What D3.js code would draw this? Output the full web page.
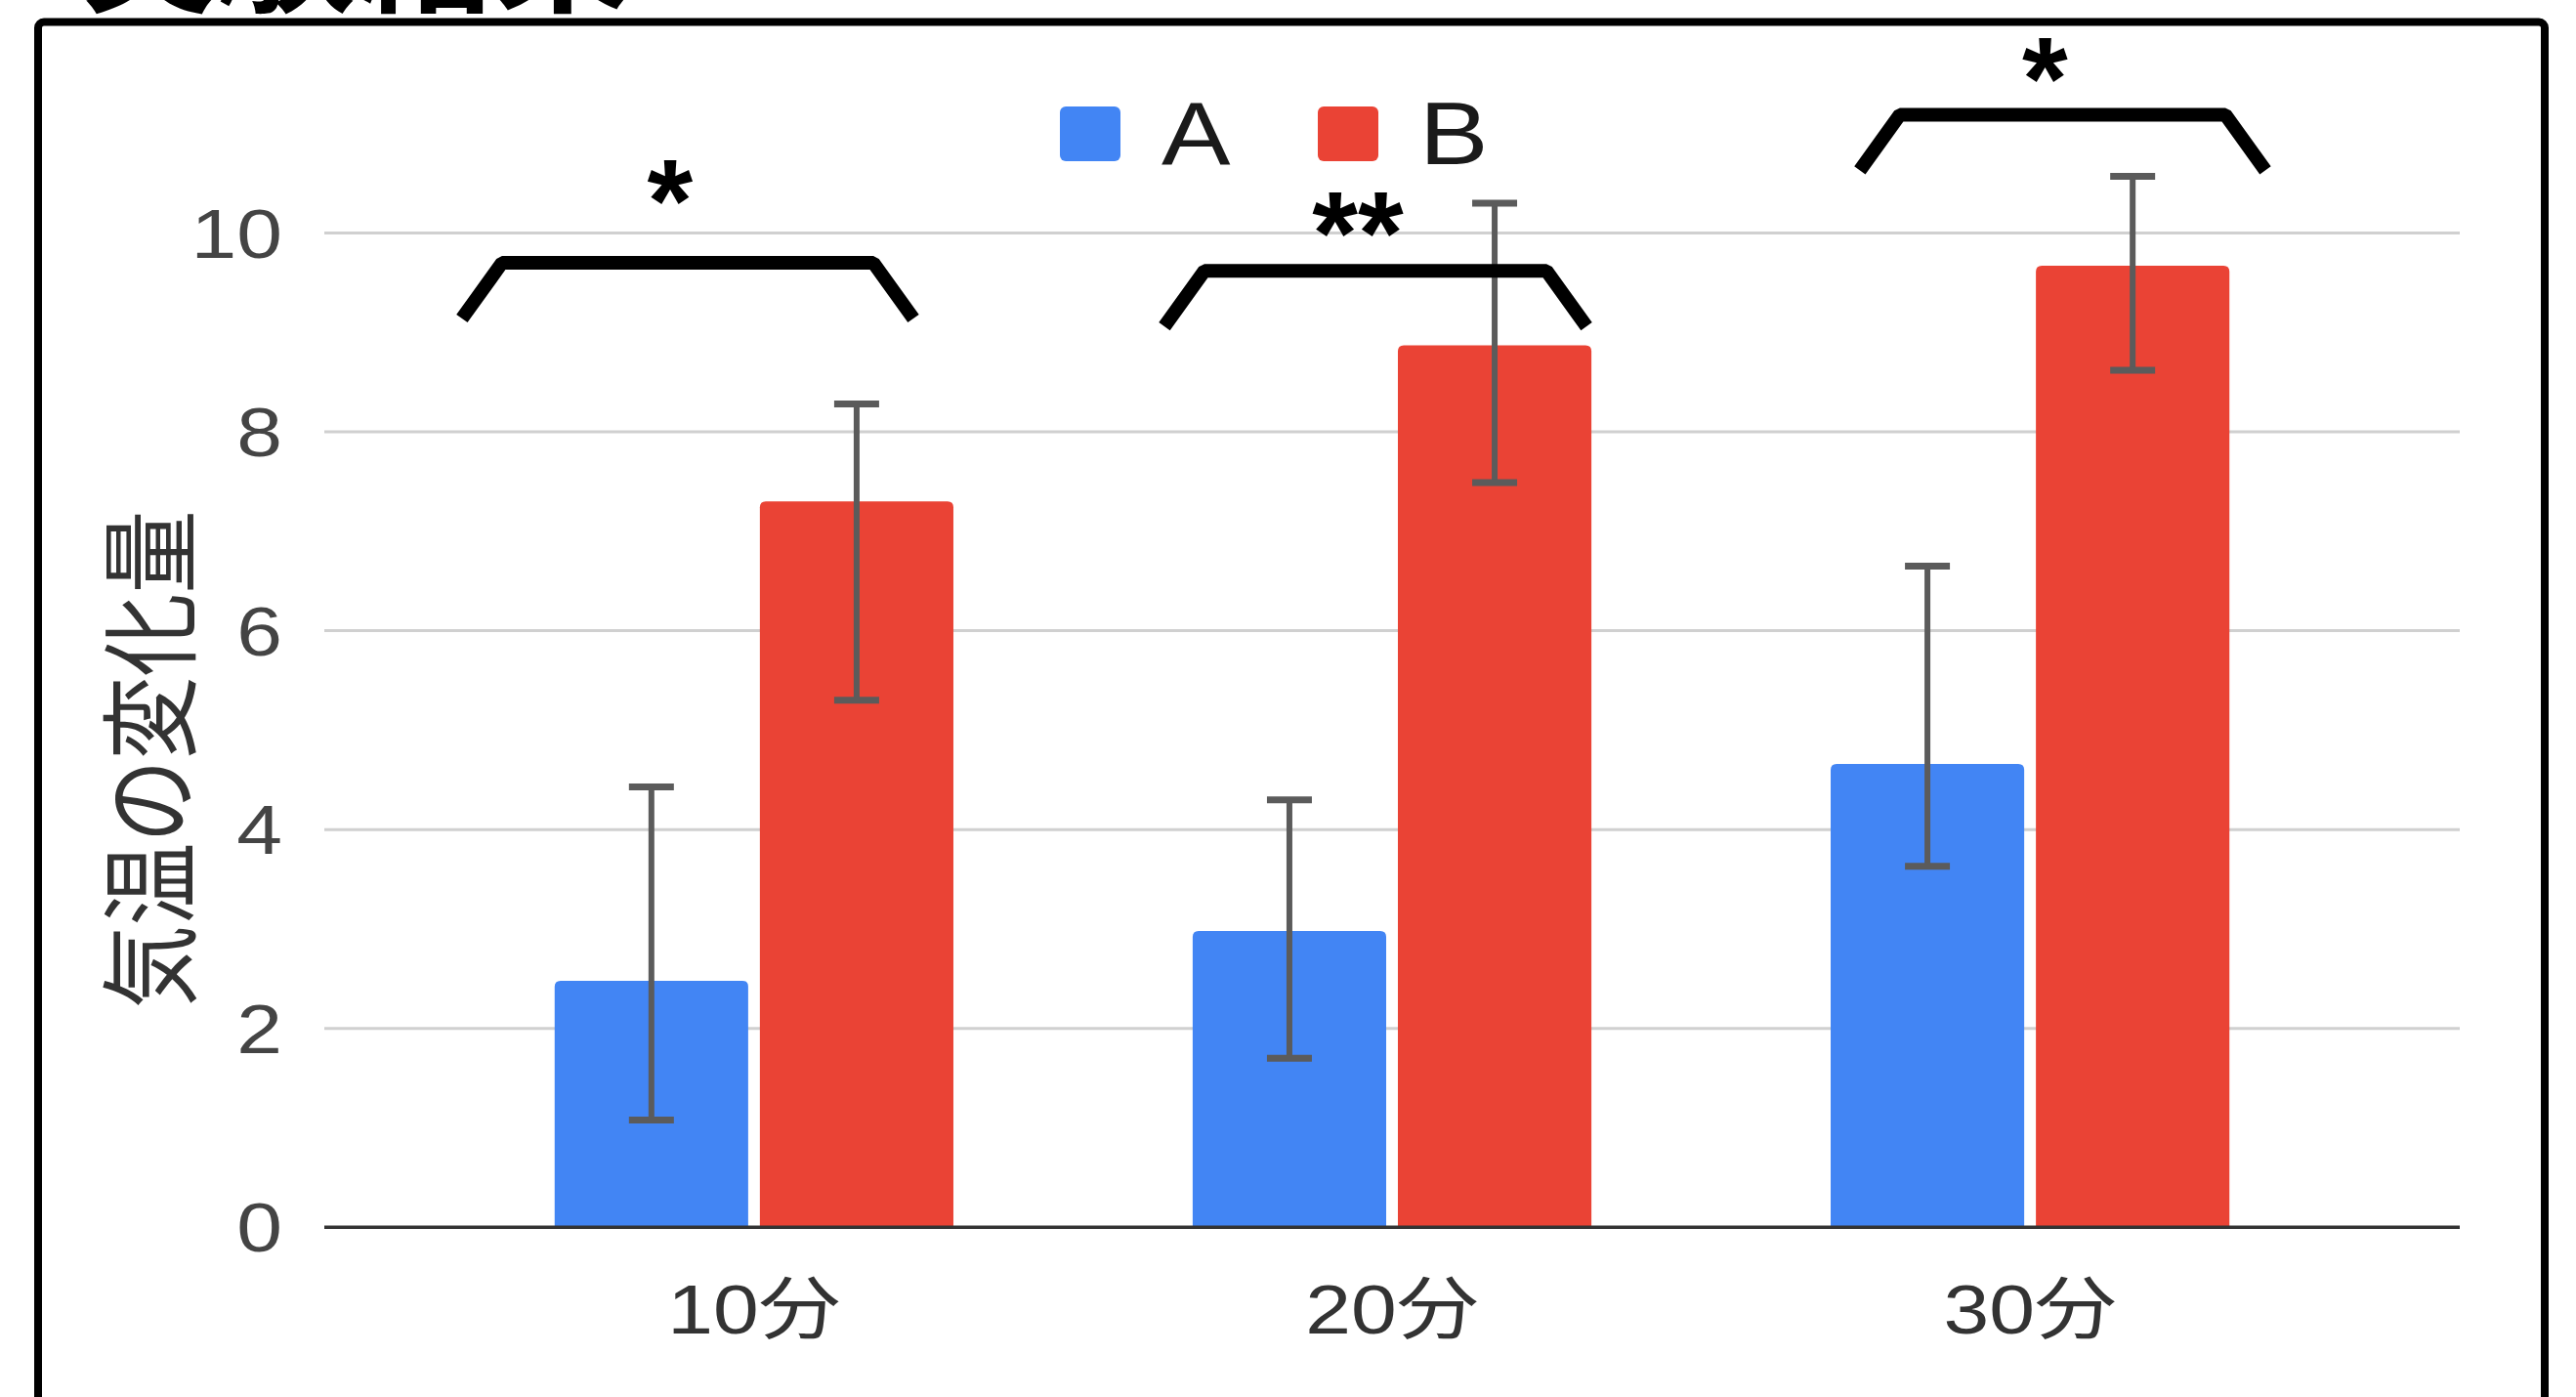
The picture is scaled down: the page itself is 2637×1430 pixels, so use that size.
<!DOCTYPE html>
<html><head><meta charset="utf-8">
<script src="https://cdn.jsdelivr.net/npm/d3@7"></script>
<style>html,body{margin:0;padding:0;background:#fff;} svg{display:block}</style>
</head><body>
<svg id="chart" width="2637" height="1430"></svg>
<script>
// ---- data ----
const categories = ["10分", "20分", "30分"];
const seriesNames = ["A", "B"];
const valuesA = [2.48, 2.98, 4.66];
const valuesB = [7.30, 8.87, 9.67];
const errLowA  = [1.08, 1.70, 3.63];
const errHighA = [4.43, 4.30, 6.65];
const errLowB  = [5.30, 7.49, 8.62];
const errHighB = [8.28, 10.30, 10.57];
const yTicks = [0, 2, 4, 6, 8, 10];
const sigLabels = ["*", "**", "*"];
const bracketLevel = [9.70, 9.62, 11.19];      // value units
const bracketFrom = [-0.395, 0.706, 1.796];    // category-index units
const bracketTo = [0.187, 1.242, 2.306];
const sigLabelLevel = [10.73, 10.40, 11.95];   // value units (top of label)
const titleText = "実験結果";
const yTitle = "気温の変化量";

// ---- setup ----
const svg = d3.select("#chart");
const colors = {A: "#4285F4", B: "#EA4335"};
const plot = {left: 332, right: 2518, top: 238.5, bottom: 1256.3};
const stretch = 1.2;
const latin = "'Liberation Sans', Arial, 'Noto Sans CJK JP', sans-serif";
const cjk = "'Noto Sans CJK JP', 'Liberation Sans', sans-serif";

const x = d3.scaleBand().domain(categories).range([plot.left, plot.right])
  .paddingInner(0.375).paddingOuter(0.361);
const xs = d3.scaleBand().domain(seriesNames).range([0, x.bandwidth()]).paddingInner(0.057);
const y = d3.scaleLinear().domain([0, 10]).range([plot.bottom, plot.top]);
const xIdx = i => x(categories[0]) + x.bandwidth() / 2 + i * x.step();

const rows = categories.map((c, i) => ({
  cat: c,
  bars: [
    {s: "A", v: valuesA[i], lo: errLowA[i], hi: errHighA[i]},
    {s: "B", v: valuesB[i], lo: errLowB[i], hi: errHighB[i]}
  ]
}));

// frame
svg.append("rect").attr("x", 39).attr("y", 22.5).attr("width", 2566).attr("height", 1500)
  .attr("rx", 6).attr("fill", "none").attr("stroke", "#000").attr("stroke-width", 8);

// title (cut off at top, as in the reference)
svg.append("text").attr("x", 82).attr("y", 1)
  .attr("font-family", cjk).attr("font-weight", 700).attr("font-size", 141)
  .attr("fill", "#000").text(titleText);

// gridlines
svg.append("g").selectAll("line").data(yTicks.filter(t => t !== 0)).join("line")
  .attr("x1", plot.left).attr("x2", plot.right)
  .attr("y1", d => y(d)).attr("y2", d => y(d))
  .attr("stroke", "#d0d0d0").attr("stroke-width", 3);

// y tick labels
svg.append("g").selectAll("text").data(yTicks).join("text")
  .attr("transform", d => `translate(${plot.left - 43},${y(d) + 0.358 * 70}) scale(${stretch},1)`)
  .attr("text-anchor", "end").attr("font-family", latin).attr("font-size", 70)
  .attr("fill", "#444").text(d => d);

// y title
svg.append("text")
  .attr("transform", `translate(147,${(y(0) + y(10)) / 2 + 30}) scale(${stretch},1) rotate(-90)`)
  .attr("text-anchor", "middle").attr("dominant-baseline", "central")
  .attr("font-family", cjk).attr("font-size", 85).attr("fill", "#333").text(yTitle);

// bars
function topRounded(x0, y0, w, h, r) {
  r = Math.min(r, h);
  return `M${x0},${y0 + h}V${y0 + r}Q${x0},${y0} ${x0 + r},${y0}H${x0 + w - r}Q${x0 + w},${y0} ${x0 + w},${y0 + r}V${y0 + h}Z`;
}
const groups = svg.append("g").selectAll("g").data(rows).join("g")
  .attr("transform", d => `translate(${x(d.cat)},0)`);
groups.selectAll("path.bar").data(d => d.bars).join("path").attr("class", "bar")
  .attr("d", d => topRounded(xs(d.s), y(d.v), xs.bandwidth(), y(0) - y(d.v), 6))
  .attr("fill", d => colors[d.s]);

// baseline
svg.append("line").attr("x1", plot.left).attr("x2", plot.right)
  .attr("y1", y(0)).attr("y2", y(0)).attr("stroke", "#333").attr("stroke-width", 3.5);

// error bars
const eb = groups.selectAll("g.err").data(d => d.bars).join("g").attr("class", "err")
  .attr("stroke", "#5b5b5b");
eb.append("line")
  .attr("x1", d => xs(d.s) + xs.bandwidth() / 2).attr("x2", d => xs(d.s) + xs.bandwidth() / 2)
  .attr("y1", d => y(d.lo)).attr("y2", d => y(d.hi)).attr("stroke-width", 6);
eb.selectAll("line.cap").data(d => [{s: d.s, v: d.lo}, {s: d.s, v: d.hi}]).join("line").attr("class", "cap")
  .attr("x1", d => xs(d.s) + xs.bandwidth() / 2 - 23).attr("x2", d => xs(d.s) + xs.bandwidth() / 2 + 23)
  .attr("y1", d => y(d.v)).attr("y2", d => y(d.v)).attr("stroke-width", 7);

// x labels
svg.append("g").selectAll("text").data(categories).join("text")
  .attr("transform", d => `translate(${x(d) + x.bandwidth() / 2},1365) scale(${stretch},1)`)
  .attr("text-anchor", "middle").attr("font-family", latin).attr("font-size", 70)
  .attr("fill", "#333").text(d => d);

// legend
const legend = svg.append("g");
const legX = [1085, 1349];
seriesNames.forEach((s, i) => {
  legend.append("rect").attr("x", legX[i]).attr("y", 109).attr("width", 62).attr("height", 56)
    .attr("rx", 6).attr("fill", colors[s]);
  legend.append("text").attr("transform", `translate(${legX[i] + 104},168) scale(${stretch * 0.98},1)`)
    .attr("font-family", latin).attr("font-size", 90).attr("fill", "#1a1a1a").text(s);
});

// significance brackets
const br = svg.append("g").selectAll("g").data(categories.map((c, i) => i)).join("g");
br.append("path")
  .attr("d", i => {
    const xl = xIdx(bracketFrom[i]), xr = xIdx(bracketTo[i]), yb = y(bracketLevel[i]);
    return `M${xl - 41},${yb + 57}L${xl},${yb}L${xr},${yb}L${xr + 41},${yb + 57}`;
  })
  .attr("fill", "none").attr("stroke", "#000").attr("stroke-width", 14).attr("stroke-linejoin", "bevel");
br.append("text")
  .attr("x", i => (xIdx(bracketFrom[i]) + xIdx(bracketTo[i])) / 2 - 18)
  .attr("y", i => y(sigLabelLevel[i]) + 0.72 * 120 - 4)
  .attr("text-anchor", "middle").attr("font-family", latin).attr("font-weight", 700)
  .attr("font-size", 120).attr("fill", "#000").text(i => sigLabels[i]);
</script>
</body></html>
